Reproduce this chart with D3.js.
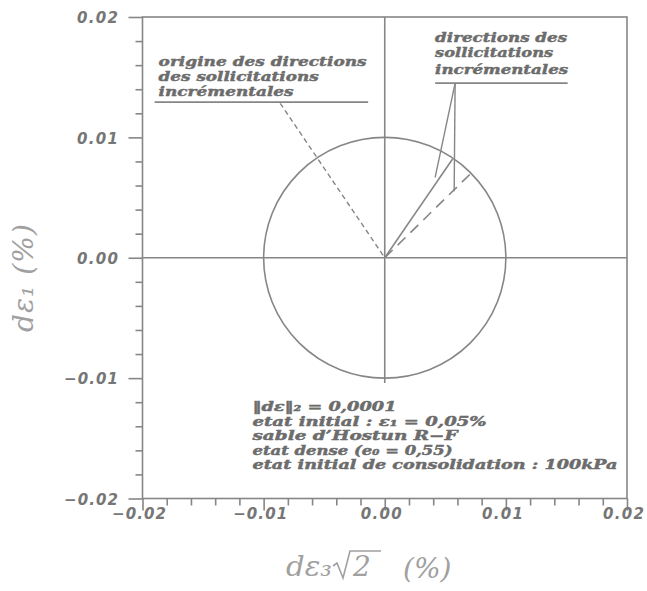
<!DOCTYPE html>
<html>
<head>
<meta charset="utf-8">
<script src="https://cdn.jsdelivr.net/npm/d3@7"></script>
<style>
  html, body { margin: 0; padding: 0; background: #ffffff; }
  svg { display: block; }
</style>
</head>
<body>
<svg id="chart" width="647" height="591"></svg>
<script>
// ---- data (strain increments, %) ----
const xDomain = [-0.02, 0.02];
const yDomain = [-0.02, 0.02];
const majorTicks = [-0.02, -0.01, 0.00, 0.01, 0.02];
const minorTicks = [-0.018, -0.016, -0.014, -0.012, -0.008, -0.006, -0.004, -0.002,
                    0.002, 0.004, 0.006, 0.008, 0.012, 0.014, 0.016, 0.018];
const tickLabels = ["\u22120.02", "\u22120.01", "0.00", "0.01", "0.02"];

// circle of constant norm ||dε||₂
const circleCenter = [0, 0];
const circleRadius = 0.01;

// axes through the origin
const zeroLineH = [[-0.02, 0], [0.02, 0]];
const zeroLineV = [[0, 0.02], [0, -0.0104]];

// incremental loading directions
const solidDirection = [[0, 0], [0.0056, 0.0082]];
const dashedDirection = [[0, 0], [0.0071, 0.0070]];

// annotation leaders (data units)
const originLeader = [[-0.00863, 0.01283], [0, 0]];
const originUnderline = [[-0.0190, 0.01293], [-0.00137, 0.01293]];
const directionLeaders = [
  [[0.00581, 0.01451], [0.00416, 0.00668]],
  [[0.00581, 0.01451], [0.00573, 0.00553]]
];
const directionUnderline = [[0.00416, 0.01451], [0.0151, 0.01451]];

// annotation texts
const originLabel = ["origine des directions", "des sollicitations", "incrémentales"];
const directionLabel = ["directions des", "sollicitations", "incrémentales"];
const conditionsLabel = [
  "\u2016d\u03b5\u2016\u2082 = 0,0001",
  "etat initial : \u03b5\u2081 = 0,05%",
  "sable d\u2019Hostun R\u2212F",
  "etat dense (e\u2080 = 0,55)",
  "etat initial de consolidation : 100kPa"
];

// ---- drawing ----
const svg = d3.select("#chart");
const lineColor = "#868686";
const textColor = "#6c6c6c";
const titleColor = "#a0a0a0";
const annoFont = "'DejaVu Serif', serif";

const x = d3.scaleLinear().domain(xDomain).range([142.5, 627]);
const y = d3.scaleLinear().domain(yDomain).range([498.5, 17]);

const line = d3.line().x(d => x(d[0])).y(d => y(d[1]));

// frame
svg.append("rect")
  .attr("x", x(xDomain[0])).attr("y", y(yDomain[1]))
  .attr("width", x(xDomain[1]) - x(xDomain[0]))
  .attr("height", y(yDomain[0]) - y(yDomain[1]))
  .attr("fill", "none").attr("stroke", lineColor).attr("stroke-width", 1.6);

function styleAxis(g) {
  g.select(".domain").remove();
  g.selectAll(".tick line").attr("stroke", lineColor).attr("stroke-width", 1.6);
  g.selectAll(".tick text")
    .attr("fill", "#767676")
    .attr("font-family", "'DejaVu Sans', sans-serif")
    .attr("font-weight", "bold")
    .attr("font-style", "italic")
    .attr("font-size", 15)
    .attr("lengthAdjust", "spacing")
    .attr("textLength", (d, i) => tickLabels[i].startsWith("\u2212") ? 54 : 41);
}

// y axis: major + minor ticks
svg.append("g").attr("transform", `translate(${x(xDomain[0])},0)`)
  .call(d3.axisLeft(y).tickValues(majorTicks).tickSize(14).tickPadding(10.5)
    .tickFormat((d, i) => tickLabels[i]))
  .call(styleAxis)
  .call(g => g.selectAll(".tick text").attr("dy", "0.38em"));
svg.append("g").attr("transform", `translate(${x(xDomain[0])},0)`)
  .call(d3.axisLeft(y).tickValues(minorTicks).tickSize(7).tickFormat(""))
  .call(g => { g.select(".domain").remove(); g.selectAll(".tick line").attr("stroke", lineColor).attr("stroke-width", 1.6); });

// x axis: major + minor ticks
svg.append("g").attr("transform", `translate(0,${y(yDomain[0])})`)
  .call(d3.axisBottom(x).tickValues(majorTicks).tickSize(12)
    .tickFormat((d, i) => tickLabels[i]))
  .call(styleAxis)
  .call(g => g.selectAll(".tick text").attr("y", 20).attr("dy", 0).attr("x", -4));
svg.append("g").attr("transform", `translate(0,${y(yDomain[0])})`)
  .call(d3.axisBottom(x).tickValues(minorTicks).tickSize(7).tickFormat(""))
  .call(g => { g.select(".domain").remove(); g.selectAll(".tick line").attr("stroke", lineColor).attr("stroke-width", 1.6); });

// zero lines
const plot = svg.append("g").attr("fill", "none").attr("stroke", lineColor).attr("stroke-width", 1.6);
plot.append("path").attr("d", line(zeroLineH));
plot.append("path").attr("d", line(zeroLineV));

// norm circle
plot.append("ellipse")
  .attr("cx", x(circleCenter[0])).attr("cy", y(circleCenter[1]))
  .attr("rx", x(circleRadius) - x(0)).attr("ry", y(0) - y(circleRadius));

// directions
plot.append("path").attr("d", line(solidDirection));
plot.append("path").attr("d", line(dashedDirection)).attr("stroke-dasharray", "11,7");

// leaders and underlines
plot.append("path").attr("d", line(originLeader)).attr("stroke-dasharray", "5,3.5").attr("stroke-width", 1.4);
plot.append("path").attr("d", line(originUnderline));
directionLeaders.forEach(l => plot.append("path").attr("d", line(l)).attr("stroke-width", 1.4));
plot.append("path").attr("d", line(directionUnderline));

// annotation text blocks (wide heavy italic, glyphs stretched to the line width)
function textBlock(lines, x0, baselines, lengths, size) {
  const g = svg.append("g")
    .attr("font-family", annoFont).attr("font-weight", "bold").attr("font-style", "italic")
    .attr("font-size", size).attr("fill", textColor)
    .attr("stroke", textColor).attr("stroke-width", 0.45);
  lines.forEach((t, i) => {
    g.append("text").attr("x", x0).attr("y", baselines[i])
      .attr("textLength", lengths[i]).attr("lengthAdjust", "spacingAndGlyphs")
      .text(t);
  });
}
textBlock(originLabel, x(originUnderline[0][0]) + 4, [65.5, 80.5, 95.5], [208, 160, 135], 12.8);
textBlock(directionLabel, x(directionUnderline[0][0]), [42, 57, 73.5], [132, 118, 133], 12.8);
textBlock(conditionsLabel, 252.5, [411, 425.5, 440, 454.5, 469], [144, 234, 205, 200, 365], 12.4);

// axis titles
const titleFont = "'DejaVu Serif', serif";
svg.append("text")
  .attr("transform", "translate(33,278) rotate(-90)")
  .attr("text-anchor", "middle")
  .attr("font-family", titleFont).attr("font-style", "italic")
  .attr("font-size", 28).attr("fill", titleColor)
  .attr("textLength", 108).attr("lengthAdjust", "spacing")
  .text("d\u03b5\u2081  (%)");

const xt = svg.append("g").attr("font-family", titleFont).attr("font-style", "italic")
  .attr("font-size", 28).attr("fill", titleColor);
xt.append("text").attr("x", 286).attr("y", 576)
  .attr("textLength", 46).attr("lengthAdjust", "spacingAndGlyphs").text("d\u03b5\u2083");
xt.append("text").attr("x", 353).attr("y", 576).text("2");
xt.append("path")
  .attr("d", "M333,566 L337,563 L343,578 L350,551 L381,551")
  .attr("fill", "none").attr("stroke", titleColor).attr("stroke-width", 1.6);
xt.append("text").attr("x", 403).attr("y", 578).text("(%)");
</script>
</body>
</html>
